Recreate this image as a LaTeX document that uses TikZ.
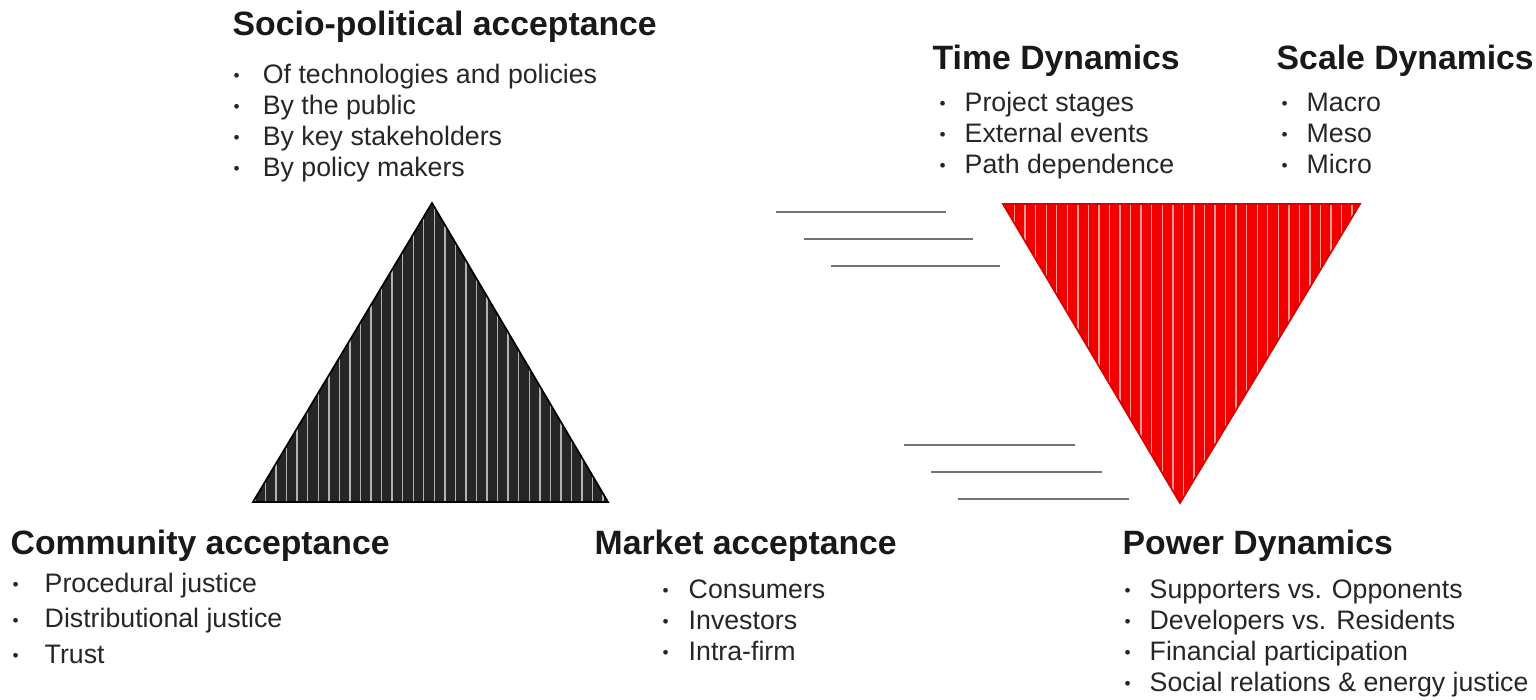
\documentclass[tikz,border=0pt]{standalone}
\usepackage{fontspec}
\setmainfont{Liberation Sans}
\usetikzlibrary{patterns}
\newcommand{\itm}[2][7.4pt]{\makebox[#1][l]{\raisebox{0.5pt}{\scalebox{0.65}{\textbullet}}}#2}

\begin{document}
\begin{tikzpicture}[
  x=0.01cm, y=-0.01cm,
  head/.style={anchor=base west, inner sep=0pt, text=black!90, font=\fontsize{9.6}{11}\selectfont\bfseries},
  items/.style={anchor=base west, inner sep=0pt, align=left, text=black!85, font=\fontsize{7.6}{8.8}\selectfont},
  wide/.style={font=\fontsize{7.6}{10}\selectfont},
  tri/.style={line width=0.5pt},
  gline/.style={black!55, line width=0.7pt}
]
\useasboundingbox (0,0) rectangle (1536,700);

% acceptance triangle
\fill [black!85] (432,203) -- (608,502) -- (253,502) -- cycle;
\path [pattern=vertical lines, pattern color=gray!60] (432,203) -- (608,502) -- (253,502) -- cycle;
\draw [tri] (432,203) -- (608,502) -- (253,502) -- cycle;

% dynamics triangle
\fill [red!95!black] (1003,204) -- (1360,204) -- (1180,503) -- cycle;
\path [pattern=vertical lines, pattern color=red!40!white] (1003,204) -- (1360,204) -- (1180,503) -- cycle;
\draw [tri, red!85!black] (1003,204) -- (1360,204) -- (1180,503) -- cycle;

% speed lines
\draw [gline] (776,212) -- (946,212);
\draw [gline] (804,239) -- (973,239);
\draw [gline] (831,266) -- (1000,266);
\draw [gline] (904,445) -- (1075,445);
\draw [gline] (931,472) -- (1102,472);
\draw [gline] (958,499) -- (1129,499);

% base west of a list = baseline of its last line
\node [head] (sp) at (232,35) {Socio-political acceptance};
\node [items] (spl) at (233,176) {\itm[8.3pt]{Of technologies and policies}\\
  \itm[8.3pt]{By the public}\\ \itm[8.3pt]{By key stakeholders}\\ \itm[8.3pt]{By policy makers}};

\node [head] (com) at (10,554) {Community acceptance};
\node [items, wide] (coml) at (12,663) {\itm[9.1pt]{Procedural justice}\\
  \itm[9.1pt]{Distributional justice}\\ \itm[9.1pt]{Trust}};

\node [head] (mkt) at (594,554) {Market acceptance};
\node [items] (mktl) at (662,660) {\itm{Consumers}\\ \itm{Investors}\\ \itm{Intra-firm}};

\node [head] (tim) at (932,69) {Time Dynamics};
\node [items] (timl) at (939,173) {\itm[7.1pt]{Project stages}\\
  \itm[7.1pt]{External events}\\ \itm[7.1pt]{Path dependence}};

\node [head] (scl) at (1276,69) {Scale Dynamics};
\node [items] (scll) at (1281,173) {\itm[7.1pt]{Macro}\\ \itm[7.1pt]{Meso}\\ \itm[7.1pt]{Micro}};

\node [head] (pow) at (1122,554) {Power Dynamics};
\node [items] (powl) at (1124,691) {\itm[7.1pt]{Supporters vs. Opponents}\\
  \itm[7.1pt]{Developers vs. Residents}\\ \itm[7.1pt]{Financial participation}\\
  \itm[7.1pt]{Social relations \& energy justice}};
\end{tikzpicture}
\end{document}
